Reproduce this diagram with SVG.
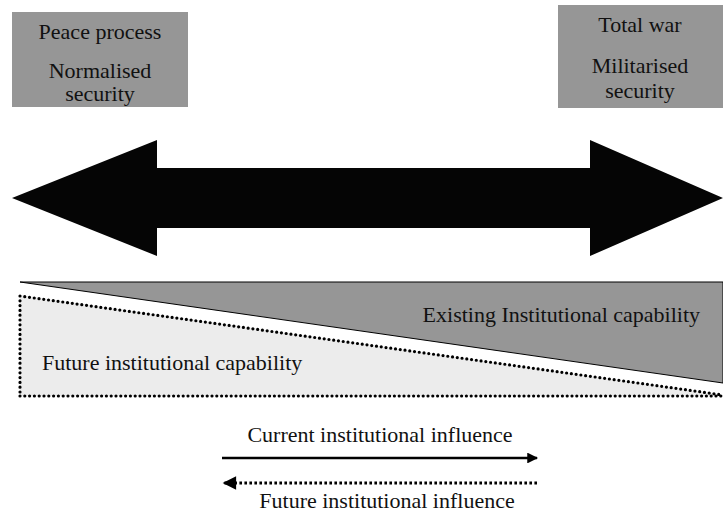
<svg xmlns="http://www.w3.org/2000/svg" width="723" height="512" viewBox="0 0 723 512">
<defs>
<style>
text{font-family:"Liberation Serif","Times New Roman",serif;font-size:22px;fill:#111}
.box{fill:#969696}
.dot{fill:none;stroke:#000;stroke-width:3.2;stroke-linecap:round;stroke-dasharray:0 4.8}
</style>
<marker id="ah" viewBox="0 0 10 10" refX="9" refY="5" markerWidth="5" markerHeight="4.5" orient="auto-start-reverse" markerUnits="strokeWidth">
<path d="M0,0 L10,5 L0,10 z" fill="#000"/>
</marker>
</defs>
<rect width="723" height="512" fill="#fff"/>
<g id="peace">
<rect class="box" x="12" y="12" width="176" height="95"/>
<text x="100" y="39" text-anchor="middle">Peace process</text>
<text x="100" y="78" text-anchor="middle">Normalised</text>
<text x="100" y="101" text-anchor="middle">security</text>
</g>
<g id="war">
<rect class="box" x="558" y="5" width="165" height="103"/>
<text x="640" y="32" text-anchor="middle">Total war</text>
<text x="640" y="73" text-anchor="middle">Militarised</text>
<text x="640" y="98" text-anchor="middle">security</text>
</g>
<g id="spectrum">
<polygon points="12,198 157,140 157,168 590,168 590,140 723,198 590,256 590,228 157,228 157,256" fill="#050505"/>
</g>
<g id="future-capability">
<polygon points="20,295 723,395 723,396 20,396" fill="#ececec"/>
<path class="dot" d="M20,296 L723,395 M20,396 L723,396 M20,296 L20,396"/>
<text x="42" y="370">Future institutional capability</text>
</g>
<g id="existing-capability">
<polygon points="20,282 723,282 723,383" fill="#969696" stroke="#000" stroke-width="1"/>
<text x="700" y="322" text-anchor="end">Existing Institutional capability</text>
</g>
<g id="connectors">
<line x1="222" y1="458" x2="537" y2="458" stroke="#000" stroke-width="2.4" marker-end="url(#ah)"/>
<line x1="537" y1="483" x2="224" y2="483" stroke="#000" stroke-width="3" stroke-dasharray="2.6 2.4" marker-end="url(#ah)"/>
</g>
<text x="380" y="442" text-anchor="middle">Current institutional influence</text>
<text x="387" y="508" text-anchor="middle">Future institutional influence</text>
</svg>
